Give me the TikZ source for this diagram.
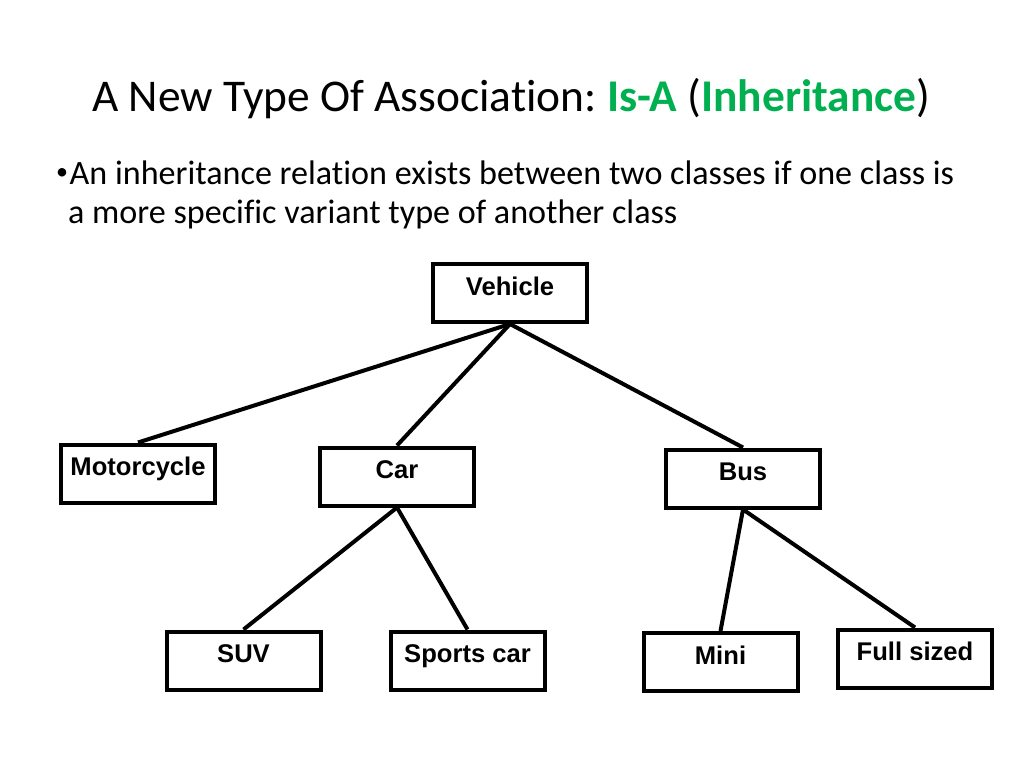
\documentclass[tikz,border=0pt]{standalone}
\usepackage{fontspec}
\setmainfont{Carlito}[Ligatures={NoCommon}]
\newfontfamily\boxfont{Liberation Sans}
\definecolor{isagreen}{HTML}{00B050}
\frenchspacing
\begin{document}
\begin{tikzpicture}[x=1pt,y=-1pt,
  cls/.style={draw=black, line width=4pt, rectangle, inner sep=0pt,
    minimum width=154pt, text height=31pt, text depth=27pt,
    font=\boxfont\fontsize{25.6}{30}\selectfont\bfseries},
  link/.style={draw=black, line width=4pt}]
\useasboundingbox (0,0) rectangle (1024,768);
\node[anchor=base west, inner sep=0pt, font=\fontsize{45.4}{52}\selectfont] (title) at (92,111)
  {A New Type Of Association: \textcolor{isagreen}{\bfseries Is-A} (\textcolor{isagreen}{\bfseries Inheritance})};
\node[anchor=base west, inner sep=0pt, font=\fontsize{34.1}{40}\selectfont] (line1) at (56,184)
  {\makebox[13.5pt][l]{\raisebox{4.8pt}{\fontsize{24}{24}\selectfont •}}An inheritance relation exists between two classes if one class is};
\node[anchor=base west, inner sep=0pt, font=\fontsize{34.1}{40}\selectfont] (line2) at (68,223)
  {a more specific variant type of another class};
\node[cls] (veh) at (510,293) {Vehicle};
\node[cls] (moto) at (138,473.5) {Motorcycle};
\node[cls] (car) at (397,476.5) {Car};
\node[cls] (bus) at (743,478.5) {Bus};
\node[cls] (suv) at (243.5,660.5) {SUV};
\node[cls] (sport) at (467.5,660.5) {Sports car};
\node[cls] (mini) at (720.5,662) {Mini};
\node[cls] (full) at (915,658.5) {Full sized};
\draw[link] (veh.south) -- (moto.north);
\draw[link] (veh.south) -- (car.north);
\draw[link] (veh.south) -- (bus.north);
\draw[link] (car.south) -- (suv.north);
\draw[link] (car.south) -- (sport.north);
\draw[link] (bus.south) -- (mini.north);
\draw[link] (bus.south) -- (full.north);
\end{tikzpicture}
\end{document}
